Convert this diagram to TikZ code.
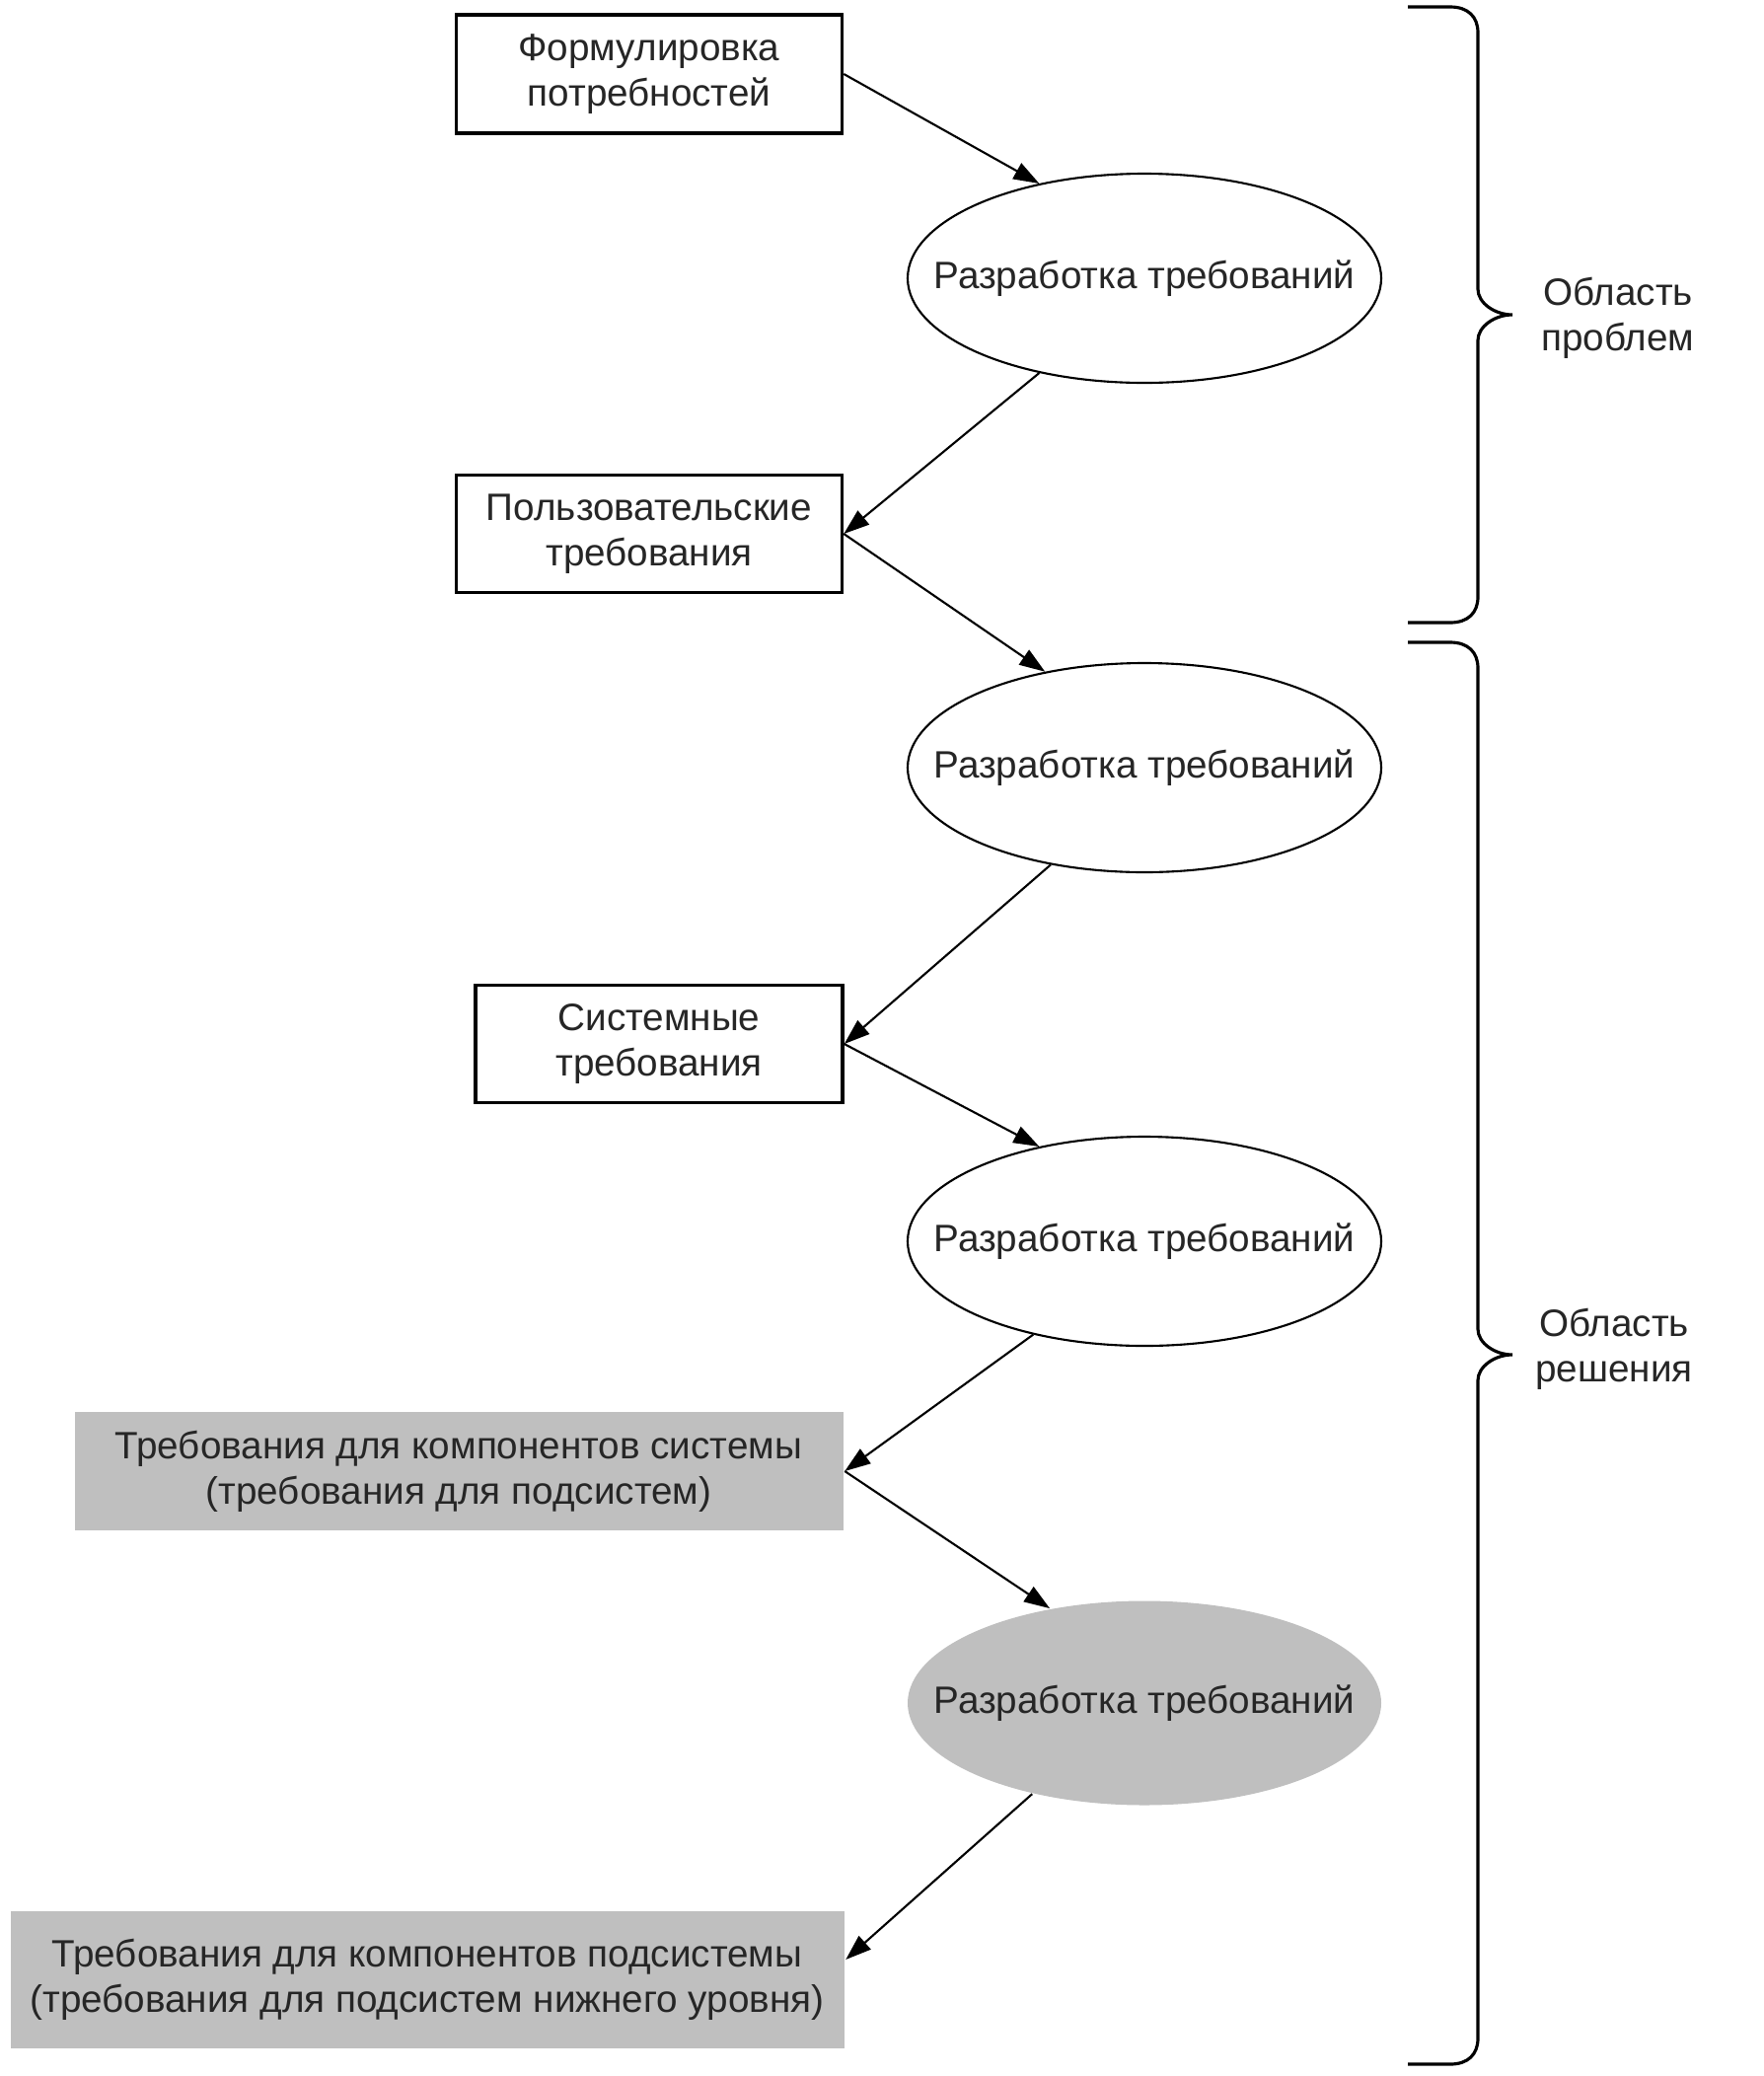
\documentclass[tikz,border=0pt]{standalone}
\usepackage{fontspec}
\setmainfont{Liberation Sans}
\usepackage{xcolor}
\usepackage{tikz}
\usetikzlibrary{positioning,shapes.geometric,arrows.meta}
\tikzset{c-box/.style={rectangle, draw=black, line width=1pt, fill=white, align=center, inner sep=0pt, font=\fontsize{11}{13}\selectfont, text=black!85},
c-gbox/.style={c-box, draw=none, fill=c_grey},
c-ellipse/.style={ellipse, draw=black, line width=0.6pt, fill=white, minimum width=4.8cm, minimum height=2.12cm, inner xsep=-1cm, inner ysep=0pt, font=\fontsize{11}{13}\selectfont, text=black!85},
c-gellipse/.style={c-ellipse, draw=none, fill=c_grey},
c-label/.style={align=center, font=\fontsize{11}{13}\selectfont, text=black!85},
brace-line/.style={line width=0.9pt},
arrow/.style={line width=0.6pt,->,>={Triangle[length=2.6mm,width=1.8mm]}}}
\definecolor{c_grey}{rgb}{0.75, 0.75, 0.75}
\begin{document}
\begin{tikzpicture}
\useasboundingbox (0,0) rectangle (17.88,-21.04);
\node (b1) [c-box, minimum width=3.91cm, minimum height=1.20cm] at (6.58,-0.75) {Формулировка\\ потребностей};
\node (e1) [c-ellipse] at (11.60,-2.82) {Разработка требований};
\node (b2) [c-box, minimum width=3.91cm, minimum height=1.19cm] at (6.58,-5.41) {Пользовательские\\ требования};
\node (e2) [c-ellipse] at (11.60,-7.78) {Разработка требований};
\node (b3) [c-box, minimum width=3.72cm, minimum height=1.19cm] at (6.68,-10.58) {Системные\\ требования};
\node (e3) [c-ellipse] at (11.60,-12.58) {Разработка требований};
\node (b4) [c-gbox, minimum width=7.79cm, minimum height=1.20cm] at (4.65,-14.91) {Требования для компонентов системы\\ (требования для подсистем)};
\node (e4) [c-gellipse, minimum height=2.07cm] at (11.60,-17.26) {Разработка требований};
\node (b5) [c-gbox, minimum width=8.45cm, minimum height=1.39cm] at (4.33,-20.06) {Требования для компонентов подсистемы\\ (требования для подсистем нижнего уровня)};
\draw [arrow] (b1.east) -- (e1.138);
\draw [arrow] (e1.222) -- (b2.east);
\draw [arrow] (b2.east) -- (e2.136);
\draw [arrow] (e2.226) -- (b3.east);
\draw [arrow] (b3.east) -- (e3.138);
\draw [arrow] (e3.220) -- (b4.east);
\draw [arrow] (b4.east) -- (e4.135);
\draw [arrow] (e4.219) -- ([yshift=0.2cm]b5.east);
\foreach \t/\m/\b in {0.07/3.19/6.31, 6.51/13.73/20.92}{
\draw [brace-line] (14.27,-\t) -- (14.70,-\t) .. controls (14.88,-\t) and (14.98,-\t-0.1) .. (14.98,-\t-0.26) -- (14.98,-\m+0.26) .. controls (14.98,-\m+0.12) and (15.15,-\m) .. (15.33,-\m) .. controls (15.15,-\m) and (14.98,-\m-0.12) .. (14.98,-\m-0.26) -- (14.98,-\b+0.26) .. controls (14.98,-\b+0.1) and (14.88,-\b) .. (14.70,-\b) -- (14.27,-\b);
}
\node (lbl1) [c-label] at (16.40,-3.22) {Область\\ проблем};
\node (lbl2) [c-label] at (16.36,-13.67) {Область\\ решения};
\end{tikzpicture}
\end{document}
